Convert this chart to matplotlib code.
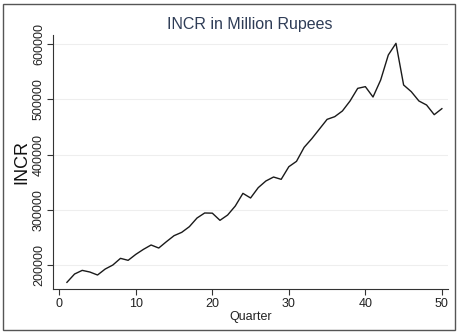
import matplotlib
matplotlib.use("Agg")
import matplotlib.pyplot as plt
from matplotlib.patches import Rectangle

quarter = list(range(1, 51))
incr = [168600, 183700, 190300, 187300, 181900, 192700, 200000, 212100, 208500, 219300,
        228400, 236300, 230800, 242300, 253200, 259200, 269500, 285200, 294300, 294000,
        281000, 290600, 306900, 329900, 321500, 340200, 352300, 359500, 355300, 378200,
        387900, 413300, 429000, 446500, 464000, 468900, 479200, 497300, 520200, 523300,
        504500, 535300, 580700, 601800, 526300, 514200, 497300, 490000, 472500, 483400]
xticks = [0, 10, 20, 30, 40, 50]
yticks = [200000, 300000, 400000, 500000, 600000]

plt.rcParams['font.family'] = ['Liberation Sans', 'DejaVu Sans']
W, H = 459, 334
fig = plt.figure(figsize=(W / 100, H / 100), dpi=100)
fig.patch.set_facecolor('white')

# outer frame
fig.add_artist(Rectangle((3 / W, 1 - 330 / H), 452 / W, 326 / H, transform=fig.transFigure,
                         fill=False, edgecolor='#555555', linewidth=1.0))

ax = fig.add_axes([53.3 / W, 1 - 289.3 / H, (448 - 53.3) / W, (289.3 - 35) / H])
ax.plot(quarter, incr, color='#1a1a1a', linewidth=1.0)
ax.set_xlim(-0.78, 50.8)
ax.set_ylim(156000, 616900)
ax.set_xticks(xticks)
ax.set_yticks(yticks)
ax.set_yticklabels([str(v) for v in yticks], rotation=90, va='center')
ax.grid(axis='y', color='#eeeeee', linewidth=0.8)
ax.set_axisbelow(True)
for s in ['top', 'right']:
    ax.spines[s].set_visible(False)
for s in ['left', 'bottom']:
    ax.spines[s].set_color('#333333')
    ax.spines[s].set_linewidth(0.8)
ax.tick_params(axis='both', direction='out', length=4, width=0.8, color='#333333',
               labelsize=9, labelcolor='#222222', pad=2)
ax.set_xlabel('Quarter', fontsize=9, color='#222222', labelpad=1)
ax.set_ylabel('INCR', fontsize=13, color='#111111', labelpad=2)
fig.text(250 / W, 1 - 24 / H, 'INCR in Million Rupees', ha='center', va='center',
         fontsize=11.5, color='#2e3c56')

fig.savefig('out.png', dpi=100)
